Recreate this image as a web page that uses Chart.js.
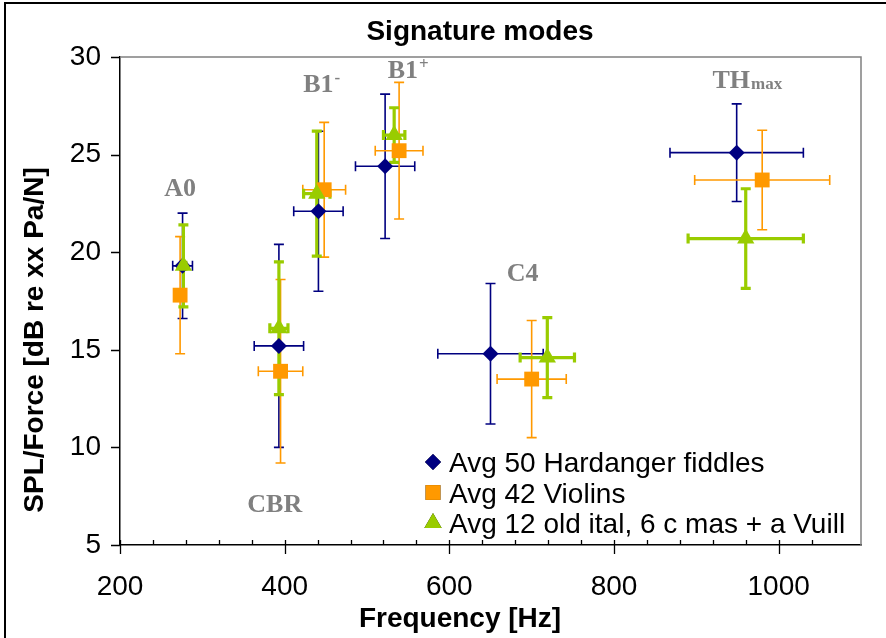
<!DOCTYPE html>
<html lang="en">
<head>
    <meta charset="UTF-8">
    <title>Signature modes</title>
    <script src="https://cdn.jsdelivr.net/npm/chart.js"></script>
    <style>
        body {
            margin: 0;
            background: #fff;
        }
        canvas {
            display: block;
        }
    </style>
</head>
<body>
    <canvas id="modesChart" width="886" height="638"></canvas>
    <script>
        // Mode labels written next to each cluster
        const modeMain = ['A0', 'CBR', 'B1', 'B1', 'C4', 'TH'];
        const modeSup = ['', '', '-', '+', '', ''];
        const modeSub = ['', '', '', '', '', 'max'];
        // where each label sits (centre freq, baseline SPL)
        const modeFreq = [273, 388, 445, 550, 689, 962];
        const modeSpl = [22.9, 6.7, 28.2, 28.9, 18.5, 28.4];

        // Avg 50 Hardanger fiddles
        const hfFreq = [276, 393, 441, 522, 650, 949];
        const hfSpl = [19.3, 15.2, 22.1, 24.4, 14.8, 25.1];
        const hfFreqErr = [12, 30, 30, 36, 64, 81];
        const hfSplErr = [2.7, 5.2, 4.1, 3.7, 3.6, 2.5];

        // Avg 42 Violins
        const vnFreq = [273, 395, 448, 539, 700, 980];
        const vnSpl = [17.8, 13.9, 23.2, 25.2, 13.5, 23.7];
        const vnFreqErr = [4, 27, 26, 29, 42, 82];
        const vnSplErr = [3.0, 4.7, 3.45, 3.5, 3.0, 2.55];

        // Avg 12 old ital, 6 c mas + a Vuill
        const itFreq = [277, 393, 439, 533, 719, 960];
        const itSpl = [19.3, 16.1, 23.0, 26.0, 14.6, 20.7];
        const itFreqErr = [3, 11, 16, 13, 33, 70];
        const itSplErr = [2.1, 3.4, 3.2, 1.4, 2.05, 2.55];

        const xTicks = [200, 400, 600, 800, 1000];

        const points = (fx, fy, ex, ey) => fx.map((f, i) => ({ x: f, y: fy[i], xErr: ex[i], yErr: ey[i] }));

        Chart.defaults.font.family = '"Liberation Sans", Arial, sans-serif';
        Chart.defaults.color = '#000';

        // white page + outer frame, plot border, tick marks, error bars
        const decorations = {
            id: 'decorations',
            beforeDraw(chart) {
                const ctx = chart.ctx;
                ctx.save();
                ctx.fillStyle = '#fff';
                ctx.fillRect(0, 0, chart.width, chart.height);
                ctx.strokeStyle = '#000';
                ctx.lineWidth = 2;
                ctx.strokeRect(5, 3, chart.width + 20, chart.height + 20);
                ctx.restore();
            },
            beforeDatasetsDraw(chart) {
                const { ctx, chartArea: a, scales: { x, y } } = chart;
                ctx.save();
                // grey top/right border
                ctx.strokeStyle = '#808080';
                ctx.lineWidth = 1.5;
                ctx.beginPath();
                ctx.moveTo(a.left, a.top);
                ctx.lineTo(a.right, a.top);
                ctx.lineTo(a.right, a.bottom);
                ctx.stroke();

                // tick marks
                ctx.strokeStyle = '#000';
                ctx.lineWidth = 1.3;
                ctx.beginPath();
                x.ticks.forEach(t => {
                    if (t.value >= x.max) return;
                    const px = Math.round(x.getPixelForValue(t.value)) + 0.5;
                    const major = Math.round(t.value) % 200 === 0;
                    ctx.moveTo(px, a.bottom - 5);
                    ctx.lineTo(px, a.bottom + (major ? 9 : 0));
                });
                y.ticks.forEach(t => {
                    const py = Math.round(y.getPixelForValue(t.value)) + 0.5;
                    ctx.moveTo(a.left - 9, py);
                    ctx.lineTo(a.left, py);
                });
                ctx.stroke();

                // error bars, in series order
                chart.data.datasets.forEach(ds => {
                    ctx.strokeStyle = ds.borderColor;
                    ctx.lineWidth = ds.errWidth;
                    const cap = 5;
                    ds.data.forEach(p => {
                        const px = x.getPixelForValue(p.x);
                        const py = y.getPixelForValue(p.y);
                        const x0 = x.getPixelForValue(p.x - p.xErr);
                        const x1 = x.getPixelForValue(p.x + p.xErr);
                        const y0 = y.getPixelForValue(p.y - p.yErr);
                        const y1 = y.getPixelForValue(p.y + p.yErr);
                        ctx.beginPath();
                        ctx.moveTo(x0, py); ctx.lineTo(x1, py);
                        ctx.moveTo(x0, py - cap); ctx.lineTo(x0, py + cap);
                        ctx.moveTo(x1, py - cap); ctx.lineTo(x1, py + cap);
                        ctx.moveTo(px, y0); ctx.lineTo(px, y1);
                        ctx.moveTo(px - cap, y0); ctx.lineTo(px + cap, y0);
                        ctx.moveTo(px - cap, y1); ctx.lineTo(px + cap, y1);
                        ctx.stroke();
                    });
                });
                ctx.restore();
            },
            afterDraw(chart) {
                const { ctx, chartArea: a, scales: { x, y } } = chart;
                ctx.save();

                // titles
                ctx.fillStyle = '#000';
                ctx.font = 'bold 28px "Liberation Sans", Arial, sans-serif';
                ctx.textAlign = 'center';
                ctx.textBaseline = 'alphabetic';
                ctx.fillText('Signature modes', 480, 40);
                ctx.fillText('Frequency [Hz]', 460, 627);
                ctx.translate(43, 340);
                ctx.rotate(-Math.PI / 2);
                ctx.fillText('SPL/Force [dB re xx Pa/N]', 0, 0);
                ctx.setTransform(1, 0, 0, 1, 0, 0);

                // mode labels
                ctx.fillStyle = '#808080';
                ctx.textAlign = 'left';
                const big = 'bold 26px "Liberation Serif", "Times New Roman", serif';
                const small = 'bold 17px "Liberation Serif", "Times New Roman", serif';
                modeMain.forEach((m, i) => {
                    ctx.font = big;
                    const w1 = ctx.measureText(m).width;
                    ctx.font = small;
                    const extra = modeSup[i] || modeSub[i];
                    const w2 = extra ? ctx.measureText(extra).width + 1 : 0;
                    const cx = x.getPixelForValue(modeFreq[i]);
                    const by = y.getPixelForValue(modeSpl[i]);
                    const sx = cx - (w1 + w2) / 2;
                    ctx.font = big;
                    ctx.fillText(m, sx, by);
                    ctx.font = small;
                    if (modeSup[i]) ctx.fillText(modeSup[i], sx + w1 + 1, by - 9);
                    if (modeSub[i]) ctx.fillText(modeSub[i], sx + w1 + 1, by + 1);
                });

                // legend inside the plot, bottom right
                ctx.font = '28px "Liberation Sans", Arial, sans-serif';
                ctx.fillStyle = '#000';
                const lx = a.right - 412;
                chart.data.datasets.forEach((ds, i) => {
                    const ly = a.bottom - 83 + i * 30.5;
                    Chart.helpers.drawPoint(ctx, {
                        pointStyle: ds.pointStyle,
                        radius: ds.legendRadius,
                        borderWidth: 0
                    }, a.right - 428, ly);
                    ctx.fillStyle = ds.backgroundColor;
                    ctx.fill();
                    ctx.fillStyle = '#000';
                    ctx.fillText(ds.label, lx, ly + 10);
                });
                ctx.restore();
            }
        };

        new Chart(document.getElementById('modesChart'), {
            type: 'scatter',
            data: {
                datasets: [
                    {
                        label: 'Avg 50 Hardanger fiddles',
                        data: points(hfFreq, hfSpl, hfFreqErr, hfSplErr),
                        pointStyle: 'rectRot',
                        pointRadius: 8,
                        legendRadius: 8,
                        backgroundColor: '#000080',
                        borderColor: '#000080',
                        borderWidth: 0,
                        errWidth: 1.6,
                        order: 3
                    },
                    {
                        label: 'Avg 42 Violins',
                        data: points(vnFreq, vnSpl, vnFreqErr, vnSplErr),
                        pointStyle: 'rect',
                        pointRadius: 10.5,
                        legendRadius: 10.5,
                        backgroundColor: '#FF9900',
                        borderColor: '#FF9900',
                        borderWidth: 0,
                        errWidth: 1.6,
                        order: 2
                    },
                    {
                        label: 'Avg 12 old ital, 6 c mas + a Vuill',
                        data: points(itFreq, itSpl, itFreqErr, itSplErr),
                        pointStyle: 'triangle',
                        pointRadius: 10,
                        legendRadius: 10,
                        backgroundColor: '#99CC00',
                        borderColor: '#99CC00',
                        borderWidth: 0,
                        errWidth: 3.2,
                        order: 1
                    }
                ]
            },
            options: {
                responsive: false,
                animation: false,
                layout: {
                    padding: { top: 57, right: 24, bottom: 0, left: 0 }
                },
                plugins: {
                    legend: { display: false },
                    tooltip: { enabled: false }
                },
                scales: {
                    x: {
                        type: 'linear',
                        min: 200,
                        max: 1100,
                        grid: { display: false, drawTicks: false },
                        border: { color: '#000', width: 1.5 },
                        ticks: {
                            stepSize: 40,
                            autoSkip: false,
                            maxRotation: 0,
                            padding: 25,
                            font: { size: 28 },
                            callback: v => xTicks.includes(Math.round(v)) ? Math.round(v) : ''
                        },
                        afterFit: scale => { scale.height = 93; }
                    },
                    y: {
                        min: 5,
                        max: 30,
                        grid: { display: false, drawTicks: false },
                        border: { color: '#000', width: 1.5 },
                        ticks: {
                            stepSize: 5,
                            padding: 19,
                            font: { size: 28 }
                        },
                        afterFit: scale => { scale.width = 120; }
                    }
                }
            },
            plugins: [decorations]
        });
    </script>
</body>
</html>
